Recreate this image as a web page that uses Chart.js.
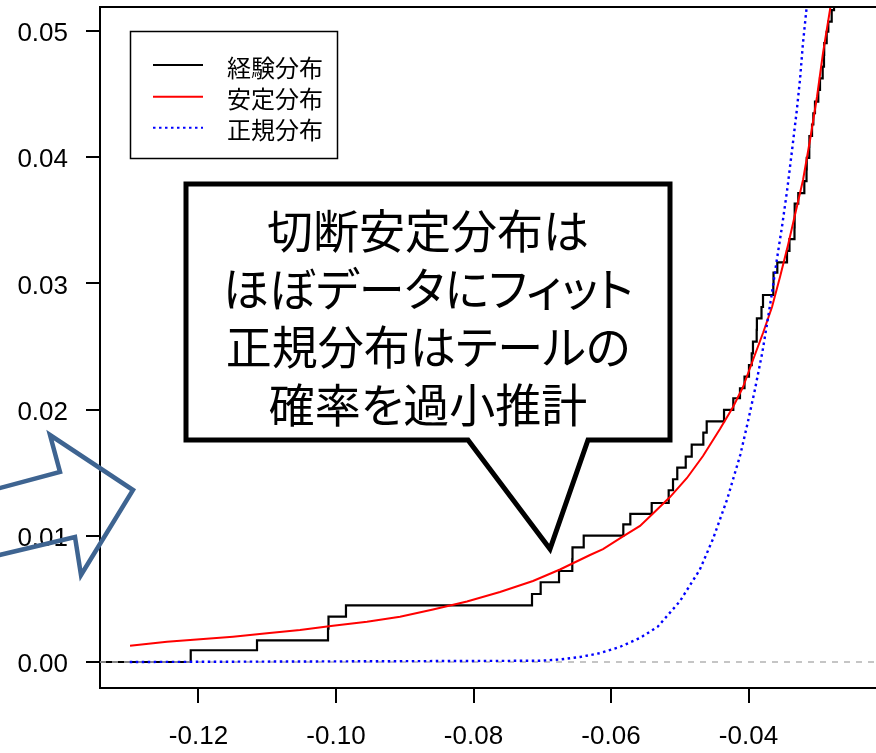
<!DOCTYPE html>
<html>
<head>
<meta charset="utf-8">
<script src="https://cdn.jsdelivr.net/npm/chart.js@4.4.1/dist/chart.umd.min.js"></script>
<style>
  html, body { margin: 0; padding: 0; background: #ffffff; }
  #wrap { position: relative; width: 876px; height: 753px; overflow: hidden; }
  canvas { display: block; }
  #callout {
    position: absolute;
    left: 186px;
    top: 199px;
    width: 484px;
    text-align: center;
    font-family: "Noto Sans CJK JP", "Noto Sans CJK SC", sans-serif;
    font-size: 46px;
    line-height: 58px;
    color: #000;
    font-feature-settings: "palt";
    white-space: nowrap;
  }
</style>
</head>
<body>
<div id="wrap">
  <canvas id="chart" width="876" height="753"></canvas>
  <div id="callout"></div>
</div>
<script>
// Empirical distribution: loss value at each step and cumulative share reached there
const ecdfX = [-0.1350, -0.12113, -0.11149, -0.10116, -0.10109, -0.09855, -0.07149, -0.07023,
  -0.06756, -0.06563, -0.06560, -0.06397, -0.05821, -0.05719, -0.05408, -0.05161, -0.05098,
  -0.05036, -0.04913, -0.04826, -0.04657, -0.04608, -0.04356, -0.04221, -0.04124, -0.04058,
  -0.03993, -0.03953, -0.03935, -0.03881, -0.03878, -0.03811, -0.03789, -0.03639, -0.03636,
  -0.03581, -0.03440, -0.03404, -0.03331, -0.03329, -0.03328, -0.03276, -0.03188, -0.03156,
  -0.03153, -0.03116, -0.03114, -0.03076, -0.03057, -0.03033, -0.02985, -0.02960, -0.02921,
  -0.02902, -0.02899, -0.02863, -0.02839, -0.02790, -0.02756];
const ecdfY = [0, 0.00093, 0.00172, 0.00265, 0.00359, 0.00449, 0.00539, 0.00632,
  0.00721, 0.00816, 0.00909, 0.01001, 0.01091, 0.01173, 0.01260, 0.01361, 0.01448,
  0.01540, 0.01627, 0.01722, 0.01817, 0.01907, 0.01997, 0.02090, 0.02169, 0.02262,
  0.02353, 0.02446, 0.02538, 0.02631, 0.02723, 0.02813, 0.02908, 0.02995, 0.03085,
  0.03166, 0.03257, 0.03350, 0.03443, 0.03538, 0.03632, 0.03716, 0.03811, 0.03903,
  0.03994, 0.04081, 0.04168, 0.04259, 0.04348, 0.04440, 0.04533, 0.04625, 0.04717,
  0.04810, 0.04903, 0.04994, 0.05074, 0.05166, 0.05257];

// Fitted (truncated) stable distribution CDF
const stableX = [-0.12996, -0.12458, -0.11978, -0.11498, -0.11004, -0.10524, -0.10044, -0.09549,
  -0.09069, -0.08589, -0.08095, -0.07615, -0.07135, -0.06742, -0.06305, -0.06116, -0.05825,
  -0.05578, -0.05389, -0.05142, -0.04895, -0.04662, -0.04415, -0.04225, -0.04080, -0.03935,
  -0.03789, -0.03658, -0.03542, -0.03425, -0.03207, -0.03105, -0.03004, -0.02916, -0.02815, -0.02756];
const stableY = [0.00129, 0.00161, 0.00180, 0.00201, 0.00227, 0.00254, 0.00288, 0.00319,
  0.00359, 0.00416, 0.00479, 0.00555, 0.00642, 0.00733, 0.00848, 0.00895, 0.00995,
  0.01078, 0.01177, 0.01307, 0.01458, 0.01632, 0.01846, 0.02021, 0.02179, 0.02393,
  0.02607, 0.02813, 0.03051, 0.03304, 0.03819, 0.04136, 0.04477, 0.04826, 0.05166, 0.05404];

// Fitted normal distribution CDF
const normalX = [-0.1300, -0.0703, -0.0674, -0.0645, -0.0616, -0.0587, -0.0558, -0.0532,
  -0.0500, -0.0471, -0.0452, -0.0431, -0.0412, -0.0401, -0.0391, -0.0380, -0.0373,
  -0.0366, -0.0359, -0.0351, -0.0344, -0.0337, -0.0330, -0.0325, -0.0321, -0.0315, -0.0310];
const normalY = [0.0000, 0.0001, 0.0002, 0.0004, 0.0007, 0.0012, 0.0019, 0.0028,
  0.0048, 0.0073, 0.0097, 0.0129, 0.0164, 0.0190, 0.0215, 0.0245, 0.0268,
  0.0292, 0.0318, 0.0346, 0.0373, 0.0404, 0.0436, 0.0462, 0.0489, 0.0521, 0.0545];

const xRange = [-0.134327, -0.021455];
const yRange = [-0.00206, 0.0519];
const xTicks = [-0.12, -0.10, -0.08, -0.06, -0.04];
const xTickLabels = ['-0.12', '-0.10', '-0.08', '-0.06', '-0.04'];
const yTicks = [0, 0.01, 0.02, 0.03, 0.04, 0.05];
const yTickLabels = ['0.00', '0.01', '0.02', '0.03', '0.04', '0.05'];

const seriesNames = ['経験分布', '安定分布', '正規分布'];
const calloutLines = ['切断安定分布は', 'ほぼデータにフィット', '正規分布はテールの', '確率を過小推計'];

// callout text as page text, one line per row
const callout = document.getElementById('callout');
calloutLines.forEach(t => {
  const d = document.createElement('div');
  d.textContent = t;
  callout.appendChild(d);
});

const toPoints = (xs, ys) => xs.map((x, i) => ({ x: x, y: ys[i] }));

const JP_FONT = '"Noto Sans CJK JP", "Noto Sans CJK SC", sans-serif';
const NUM_FONT = '"Liberation Sans", Arial, sans-serif';

// Frame top edge, legend box, callout bubble and the pointing arrow
const decorations = {
  id: 'decorations',
  afterDraw(chart) {
    const { ctx, chartArea: a } = chart;
    ctx.save();

    // top edge of the plot frame
    ctx.strokeStyle = '#000';
    ctx.lineWidth = 2;
    ctx.beginPath();
    ctx.moveTo(a.left - 1, a.top);
    ctx.lineTo(a.right + 2, a.top);
    ctx.stroke();

    // legend
    ctx.lineWidth = 1.5;
    ctx.strokeStyle = '#000';
    ctx.fillStyle = '#fff';
    ctx.fillRect(130.5, 31.5, 207, 127);
    ctx.strokeRect(130.5, 31.5, 207, 127);
    const rows = [65, 96.7, 127.7];
    seriesNames.forEach((name, i) => {
      const ds = chart.data.datasets.find(d => d.label === name);
      ctx.save();
      ctx.strokeStyle = ds.borderColor;
      ctx.lineWidth = Math.min(ds.borderWidth, 2);
      ctx.setLineDash(ds.borderDash || []);
      ctx.beginPath();
      ctx.moveTo(153, rows[i]);
      ctx.lineTo(203, rows[i]);
      ctx.stroke();
      ctx.restore();
      ctx.fillStyle = '#000';
      ctx.font = '24px ' + JP_FONT;
      ctx.textAlign = 'left';
      ctx.textBaseline = 'middle';
      ctx.fillText(name, 227, rows[i] + 2.5);
    });

    // callout bubble
    ctx.beginPath();
    ctx.moveTo(186, 184);
    ctx.lineTo(670, 184);
    ctx.lineTo(670, 440);
    ctx.lineTo(588, 440);
    ctx.lineTo(550, 549);
    ctx.lineTo(468, 440);
    ctx.lineTo(186, 440);
    ctx.closePath();
    ctx.fillStyle = '#fff';
    ctx.fill();
    ctx.lineWidth = 5;
    ctx.lineJoin = 'miter';
    ctx.miterLimit = 10;
    ctx.strokeStyle = '#000';
    ctx.stroke();

    // outlined block arrow pointing into the plot
    ctx.beginPath();
    ctx.moveTo(-30, 496);
    ctx.lineTo(60, 472);
    ctx.lineTo(50, 435);
    ctx.lineTo(133, 490);
    ctx.lineTo(81, 575);
    ctx.lineTo(75, 537);
    ctx.lineTo(-30, 562);
    ctx.strokeStyle = '#3E6491';
    ctx.lineWidth = 4.5;
    ctx.lineJoin = 'miter';
    ctx.stroke();

    ctx.restore();
  }
};

new Chart(document.getElementById('chart'), {
  type: 'line',
  data: {
    datasets: [
      {
        label: '正規分布',
        data: toPoints(normalX, normalY),
        borderColor: '#0000ff',
        borderWidth: 2.4,
        borderDash: [2.5, 3.5],
        pointRadius: 0,
        tension: 0,
        order: 1
      },
      {
        label: '安定分布',
        data: toPoints(stableX, stableY),
        borderColor: '#ff0000',
        borderWidth: 2,
        pointRadius: 0,
        tension: 0,
        order: 2
      },
      {
        label: 'zero',
        data: toPoints(xRange, [0, 0]),
        borderColor: '#b3b3b3',
        borderWidth: 1.5,
        borderDash: [6, 6],
        pointRadius: 0,
        order: 3
      },
      {
        label: '経験分布',
        data: toPoints(ecdfX, ecdfY),
        borderColor: '#000000',
        borderWidth: 2.2,
        stepped: 'before',
        pointRadius: 0,
        order: 4
      }
    ]
  },
  options: {
    responsive: false,
    devicePixelRatio: 1,
    animation: false,
    layout: { padding: { top: 7, right: 0, bottom: 0, left: 0 } },
    plugins: {
      legend: { display: false },
      tooltip: { enabled: false }
    },
    scales: {
      x: {
        type: 'linear',
        min: xRange[0],
        max: xRange[1],
        afterBuildTicks: s => { s.ticks = xTicks.map(v => ({ value: v })); },
        afterFit: s => { s.height = 65; s.paddingLeft = 0; s.paddingRight = 0; },
        ticks: {
          callback: (v, i) => xTickLabels[i],
          font: { family: NUM_FONT, size: 26 },
          color: '#000',
          padding: 18,
          maxRotation: 0,
          autoSkip: false
        },
        grid: { drawOnChartArea: false, drawTicks: true, tickLength: 15, color: '#000', lineWidth: 2 },
        border: { display: true, color: '#000', width: 2 }
      },
      y: {
        type: 'linear',
        min: yRange[0],
        max: yRange[1],
        afterBuildTicks: s => { s.ticks = yTicks.map(v => ({ value: v })); },
        afterFit: s => { s.width = 100; s.paddingTop = 0; s.paddingBottom = 0; },
        ticks: {
          callback: (v, i) => yTickLabels[i],
          font: { family: NUM_FONT, size: 26 },
          color: '#000',
          padding: 18,
          labelOffset: 3,
          autoSkip: false
        },
        grid: { drawOnChartArea: false, drawTicks: true, tickLength: 14, color: '#000', lineWidth: 2 },
        border: { display: true, color: '#000', width: 2 }
      }
    }
  },
  plugins: [decorations]
});
</script>
</body>
</html>
